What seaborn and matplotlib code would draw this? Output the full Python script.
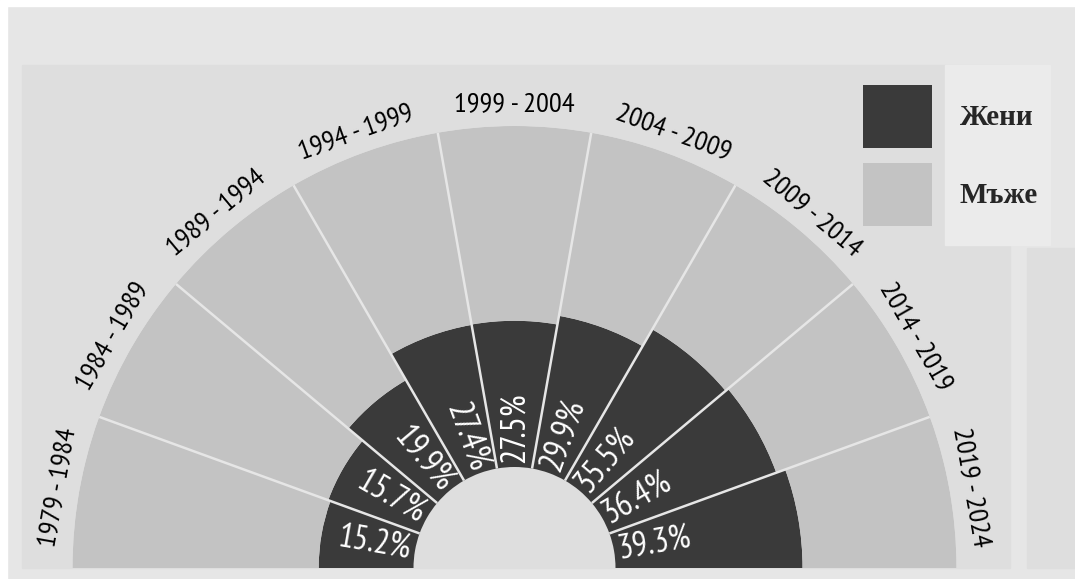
import numpy as np
import matplotlib
matplotlib.use("Agg")
import matplotlib.pyplot as plt
from matplotlib import font_manager
from matplotlib.patches import Rectangle, Patch
import seaborn as sns

# Данни: дял на жените по мандати (%)
periods = [
    "1979 - 1984", "1984 - 1989", "1989 - 1994", "1994 - 1999", "1999 - 2004",
    "2004 - 2009", "2009 - 2014", "2014 - 2019", "2019 - 2024",
]
women_pct = [15.2, 15.7, 19.9, 27.4, 27.5, 29.9, 35.5, 36.4, 39.3]
legend_labels = ["Жени", "Мъже"]

# Стил
sns.set_theme(style="white")

# търся тесен (condensed) шрифт, близък до оригинала
available = {f.name for f in font_manager.fontManager.ttflist}
narrow_pref = ["PT Sans Narrow", "Fira Sans Condensed", "Roboto Condensed",
               "Encode Sans Condensed", "Asap Condensed", "Archivo Narrow",
               "Open Sans Condensed", "IBM Plex Sans Condensed", "Liberation Sans Narrow"]
NARROW = next((f for f in narrow_pref if f in available), "DejaVu Sans")
plt.rcParams["font.family"] = [NARROW, "DejaVu Sans"]

DARK = "#3a3a3a"
LIGHT = "#c3c3c3"
BG = "#e6e6e6"
PANEL = "#dedede"
SEP = "#e6e6e6"

W, H = 1075, 579
fig = plt.figure(figsize=(W / 100, H / 100), dpi=100, facecolor=BG)


def px_rect(x0, y0, x1, y1, color):
    """Правоъгълник във фигурата, зададен в пиксели (отгоре-надолу)."""
    fig.patches.append(Rectangle((x0 / W, 1 - y1 / H), (x1 - x0) / W, (y1 - y0) / H,
                                 transform=fig.transFigure, color=color, zorder=-5))


px_rect(0, 0, W, 6, "white")
px_rect(0, 0, 7, H, "white")
px_rect(22, 65, 1010, 568, PANEL)
px_rect(1027, 248, W, 568, PANEL)
px_rect(945, 65, 1050, 245, "#ebebeb")

# Полярна ос: център (514, 568) px, радиус 442 px
cx, cy, R = 514.5, 568, 442
ax = fig.add_axes([(cx - R) / W, (H - cy - R) / H, 2 * R / W, 2 * R / H],
                  projection="polar")
ax.set_facecolor("none")
ax.set_ylim(0, 1)
ax.grid(False)
ax.set_xticks([])
ax.set_yticks([])
ax.spines["polar"].set_visible(False)

hole = 101 / R
n = len(periods)
step = np.pi / n
theta = np.pi - step * (np.arange(n) + 0.5)
share = np.array(women_pct) / 100
r_women = np.sqrt(hole ** 2 + share * (1 - hole ** 2))  # площ, пропорционална на дела

ax.bar(theta, r_women - hole, width=step, bottom=hole, color=DARK, linewidth=0)
ax.bar(theta, 1 - r_women, width=step, bottom=r_women, color=LIGHT, linewidth=0)

# бели разделителни линии
for b in np.pi - step * np.arange(1, n):
    ax.plot([b, b], [hole, 1], color=SEP, lw=1.8, solid_capstyle="butt")

# надписи
for t, p, lab in zip(theta, women_pct, periods):
    deg = np.rad2deg(t)
    if deg <= 90:
        rot, ha = deg, "left"
    else:
        rot, ha = deg - 180, "right"
    ax.text(t, hole + 0.008, f"{p}%", rotation=rot, rotation_mode="anchor",
            ha=ha, va="center", color="white", fontsize=24.5)
    ax.text(t, 1.05, lab, rotation=deg - 90, rotation_mode="anchor",
            ha="center", va="center", color="black", fontsize=20.5)

# легенда
handles = [Patch(facecolor=DARK, edgecolor="none"), Patch(facecolor=LIGHT, edgecolor="none")]
fs = 21
fpx = fs * 100 / 72
fig.legend(handles, legend_labels, loc="upper left",
           bbox_to_anchor=(863 / W, 1 - 85 / H), bbox_transform=fig.transFigure,
           frameon=False, borderpad=0, borderaxespad=0,
           handlelength=69 / fpx, handleheight=(63 / fpx - 0.245) / 0.65,
           handletextpad=28 / fpx, labelspacing=15 / fpx,
           prop={"family": ["Liberation Serif", "DejaVu Serif"], "weight": "bold", "size": fs})

fig.savefig("out.png", dpi=100, facecolor=fig.get_facecolor())
